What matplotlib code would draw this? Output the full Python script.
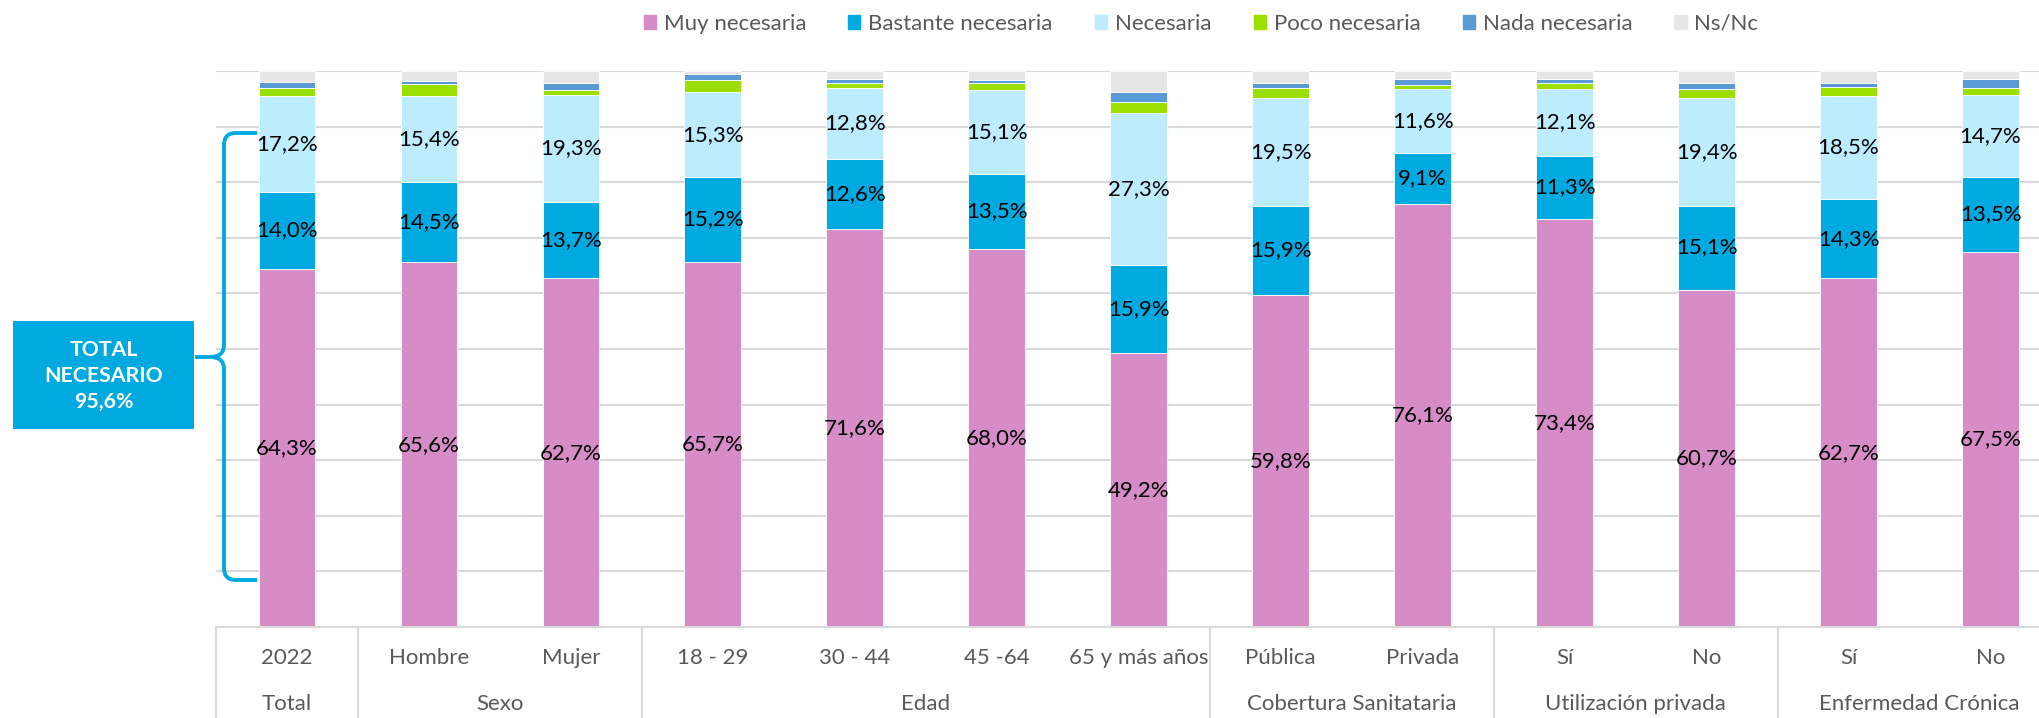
import matplotlib.pyplot as plt
from matplotlib.patches import Patch, Rectangle, PathPatch
from matplotlib.path import Path
import matplotlib.transforms as mtransforms
import numpy as np

plt.rcParams['font.family'] = ['Lato', 'DejaVu Sans']

# categories (first row of the axis) and groups (second row)
categories = ["2022", "Hombre", "Mujer", "18 - 29", "30 - 44", "45 -64", "65 y más años",
              "Pública", "Privada", "Sí", "No", "Sí", "No"]
groups = ["Total", "Sexo", "Edad", "Cobertura Sanitataria", "Utilización privada", "Enfermedad Crónica"]
group_sizes = [1, 2, 4, 2, 2, 2]

# series values (%)
muy = [64.3, 65.6, 62.7, 65.7, 71.6, 68.0, 49.2, 59.8, 76.1, 73.4, 60.7, 62.7, 67.5]
bastante = [14.0, 14.5, 13.7, 15.2, 12.6, 13.5, 15.9, 15.9, 9.1, 11.3, 15.1, 14.3, 13.5]
necesaria = [17.2, 15.4, 19.3, 15.3, 12.8, 15.1, 27.3, 19.5, 11.6, 12.1, 19.4, 18.5, 14.7]
poco = [1.5, 2.2, 0.9, 2.2, 0.9, 1.3, 2.1, 1.7, 0.7, 1.1, 1.6, 1.7, 1.3]
nada = [1.0, 0.5, 1.3, 1.1, 0.7, 0.5, 1.7, 1.0, 1.0, 0.7, 1.0, 0.6, 1.5]
nsnc = [2.0, 1.8, 2.1, 0.5, 1.4, 1.6, 3.8, 2.1, 1.5, 1.4, 2.2, 2.2, 1.5]

series_names = ["Muy necesaria", "Bastante necesaria", "Necesaria", "Poco necesaria", "Nada necesaria", "Ns/Nc"]
series = [muy, bastante, necesaria, poco, nada, nsnc]
colors = ["#D68CC6", "#00A9E0", "#BCECFE", "#9BDF00", "#5B9BD5", "#E6E6E6"]

total_label = "TOTAL\nNECESARIO\n95,6%"

grey_text = "#595959"
grid_col = "#D9D9D9"
blue = "#00A9E0"

fig = plt.figure(figsize=(20.39, 7.18), dpi=100)
ax = fig.add_axes([216 / 2039, 91 / 718, 1845.5 / 2039, 556 / 718])

x = np.arange(len(categories))
bottom = np.zeros(len(categories))
for i in range(len(series)):
    vals = np.array(series[i])
    bars = ax.bar(x, vals, 0.40, bottom=bottom, color=colors[i], edgecolor="white",
                  linewidth=0.6, label=series_names[i], zorder=2)
    # only the three big series get value labels
    if i < 3:
        labs = [("%.1f%%" % v).replace(".", ",") for v in vals]
        ax.bar_label(bars, labels=labs, label_type="center", fontsize=16, color="black")
    bottom += vals

ax.set_xlim(-0.5, 12.5)
ax.set_ylim(0, 100)
ax.set_yticks(range(0, 101, 10))
ax.set_yticklabels([])
ax.yaxis.grid(True, color=grid_col, linewidth=1.5)
ax.set_axisbelow(True)
ax.tick_params(axis="y", length=0)
for s in ["top", "right", "left"]:
    ax.spines[s].set_visible(False)
ax.spines["bottom"].set_color(grid_col)
ax.spines["bottom"].set_linewidth(1.5)

ax.set_xticks(x)
ax.set_xticklabels(categories, fontsize=16, color=grey_text)
ax.tick_params(axis="x", length=0, pad=15)

# second row of the category axis + separators
trans = mtransforms.blended_transform_factory(ax.transData, ax.transAxes)
start = -0.5
ax.plot([start, start], [0, -0.2], transform=trans, color=grid_col, lw=1.5, clip_on=False)
for g, n in zip(groups, group_sizes):
    ax.text(start + n / 2, -0.1376, g, transform=trans, ha="center", va="center",
            fontsize=16, color=grey_text)
    start += n
    ax.plot([start, start], [0, -0.2], transform=trans, color=grid_col, lw=1.5, clip_on=False)

# legend
handles = [Patch(color=c) for c in colors]
fig.legend(handles, series_names, loc="center", bbox_to_anchor=(0.589, 0.967), ncol=6,
           frameon=False, fontsize=16, labelcolor=grey_text, handlelength=0.55,
           handleheight=0.55, handletextpad=0.35, columnspacing=1.9)

# total box and bracket, drawn in pixel space
ov = fig.add_axes([0, 0, 1, 1], zorder=5)
ov.set_xlim(0, 2039)
ov.set_ylim(718, 0)
ov.axis("off")
ov.patch.set_alpha(0)

ov.add_patch(Rectangle((13, 321), 181, 108, facecolor=blue, edgecolor="none"))
ov.text(104, 376, total_label, ha="center", va="center", color="white", fontsize=15.3,
        fontweight="bold", linespacing=1.35)

verts = [(257, 133), (236, 133), (224, 133), (224, 145), (224, 345), (224, 357), (210, 357), (195, 357),
         (210, 357), (224, 357), (224, 369), (224, 568), (224, 580), (236, 580), (257, 580)]
codes = [Path.MOVETO, Path.LINETO, Path.CURVE3, Path.CURVE3, Path.LINETO, Path.CURVE3, Path.CURVE3, Path.LINETO,
         Path.MOVETO, Path.CURVE3, Path.CURVE3, Path.LINETO, Path.CURVE3, Path.CURVE3, Path.LINETO]
ov.add_patch(PathPatch(Path(verts, codes), facecolor="none", edgecolor=blue, lw=2.8))

fig.savefig("out.png", dpi=100)
